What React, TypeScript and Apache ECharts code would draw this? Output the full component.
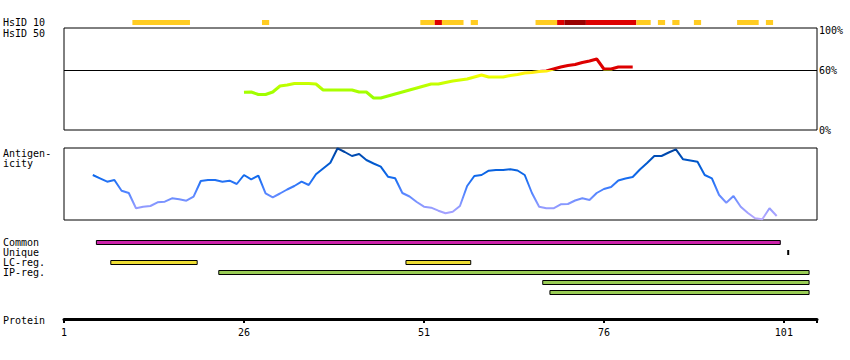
import React, { useEffect, useRef } from 'react';
import * as echarts from 'echarts';

// ---------- data ----------
// HsID segments: [firstResidue, lastResidue, colourKey]  (0 = yellow, 1 = red, 2 = dark red)
const hsidSegments: [number, number, number][] = [
  [11, 18, 0], [29, 29, 0], [51, 52, 0], [53, 53, 1], [54, 56, 0], [58, 58, 0],
  [67, 69, 0], [70, 70, 1], [71, 73, 2], [74, 80, 1], [81, 82, 0], [84, 84, 0],
  [86, 86, 0], [89, 89, 0], [95, 97, 0], [99, 99, 0],
];

// HsID 50 identity (%) per residue, starting at residue 26
const identityStart = 26;
const identityValues = [
  37.7, 38, 35.5, 35.5, 38, 44, 45, 46.5, 46.5, 46.5,
  46, 40, 40, 40, 40, 40, 38, 38, 32, 32,
  34, 36, 38, 40, 42, 44, 46, 46, 47.5, 49,
  50, 51, 53, 55, 53, 53, 53, 54.5, 55.5, 57,
  57.5, 58.5, 59, 61, 63, 64.5, 65.5, 67.5, 69, 71,
  61, 61, 63, 63, 63,
];
const identityTicks = [0, 60, 100];

// Antigenicity score per residue, starting at residue 5
const antigenStart = 5;
const antigenValues = [
  45, 41.7, 38.3, 40, 29.3, 27, 11.7, 13.3, 14, 17.7,
  18.3, 21.7, 20.7, 19.3, 23.3, 39, 40, 40, 38.3, 39.3,
  36, 45, 40.7, 44.3, 26.7, 22.7, 26.5, 30.5, 34, 38.3,
  35, 45.7, 51.5, 57.3, 71.7, 68, 64, 66, 60, 56.5,
  53.3, 43.3, 41.7, 27, 23.5, 18, 13.3, 12.3, 9.3, 6.7,
  8.3, 14, 34, 44, 45, 49.3, 50, 50, 50.7, 49.5,
  45, 27, 13.3, 11.7, 11.7, 15.7, 16, 19.5, 21.7, 20,
  27, 31, 33, 39.5, 41.5, 43, 50.5, 57, 64, 64,
  67.5, 70.7, 60.7, 59.5, 58.3, 45, 41.7, 25, 17.3, 24,
  13.3, 7, 1.7, 0.7, 11.7, 4,
];

// Feature regions [firstResidue, lastResidue]
const commonRegions: [number, number][] = [[6, 100]];
const uniqueMarks = [101.6];
const lcRegions: [number, number][] = [[8, 19], [49, 57]];
const ipRegions: [number, number][] = [[23, 104], [68, 104], [69, 104]];

const proteinTicks = [1, 26, 51, 76, 101];
const proteinEnd = 105.6;

const hsidLabels = ['HsID 10', 'HsID 50'];
const antigenLabels = ['Antigen-', 'icity'];
const featureLabels = ['Common', 'Unique', 'LC-reg.', 'IP-reg.'];
const proteinLabel = 'Protein';

// ---------- styles ----------
const FONT = "'DejaVu Sans Mono', monospace";
const HSID_COLORS = ['#ffcc22', '#dd0000', '#990000'];
const FEATURE_COLORS = ['#cc22aa', '#eedd33', '#99cc55', '#000000'];
const LEFT = 64;
const RIGHT = 33;

export default function App() {
  const ref = useRef<HTMLDivElement>(null);

  useEffect(() => {
    if (!ref.current) return;
    const chart = echarts.init(ref.current, null, { renderer: 'svg' });

    const identityData = identityValues.map((v, i) => [identityStart + i, v]);
    const antigenData = antigenValues.map((v, i) => [antigenStart + i, v]);

    // features: [start, end, rowValue, kind]
    const featureData: number[][] = [];
    commonRegions.forEach((r) => featureData.push([r[0], r[1], 5.5, 0]));
    uniqueMarks.forEach((m) => featureData.push([m, m, 15.5, 3]));
    lcRegions.forEach((r) => featureData.push([r[0], r[1], 25.5, 1]));
    ipRegions.forEach((r, i) => featureData.push([r[0], r[1], 35.5 + i * 10, 2]));

    const xBase = (gridIndex: number, show = false) => ({
      type: 'value' as const,
      gridIndex,
      min: 1,
      max: proteinEnd,
      show,
      splitLine: { show: false },
    });
    const yBase = (gridIndex: number, min: number, max: number, extra: any = {}) => ({
      type: 'value' as const,
      gridIndex,
      min,
      max,
      show: false,
      splitLine: { show: false },
      ...extra,
    });

    const text = (t: string, x: number, y: number, align = 'left') => ({
      type: 'text',
      x,
      y,
      silent: true,
      style: {
        text: t,
        font: `10px ${FONT}`,
        fill: '#000',
        align,
        verticalAlign: 'middle',
      },
    });

    const graphics: any[] = [
      text(hsidLabels[0], 3, 22.5),
      text(hsidLabels[1], 3, 33),
      text(antigenLabels[0], 3, 153),
      text(antigenLabels[1], 3, 163),
      ...featureLabels.map((l, i) => text(l, 3, 242.5 + i * 10)),
      text(proteinLabel, 3, 320),
    ];

    const option: any = {
      animation: false,
      backgroundColor: '#fff',
      textStyle: { fontFamily: FONT },
      grid: [
        { left: LEFT, right: RIGHT, top: 20, height: 5 },
        { left: LEFT, right: RIGHT, top: 28, height: 102, show: true, borderColor: '#000', borderWidth: 1 },
        { left: LEFT, right: RIGHT, top: 148, height: 72, show: true, borderColor: '#000', borderWidth: 1 },
        { left: LEFT, right: RIGHT, top: 237, height: 60 },
        { left: LEFT, right: RIGHT, top: 300, height: 19 },
      ],
      xAxis: [
        xBase(0),
        xBase(1),
        xBase(2),
        xBase(3),
        {
          ...xBase(4, true),
          position: 'bottom',
          axisLine: { show: true, onZero: false, lineStyle: { color: '#000', width: 3 } },
          axisTick: {
            show: true,
            length: 4,
            customValues: [...proteinTicks, proteinEnd],
            lineStyle: { color: '#000', width: 2 },
          },
          axisLabel: {
            show: true,
            customValues: proteinTicks,
            color: '#000',
            fontFamily: FONT,
            fontSize: 10,
            margin: 8,
          },
        },
      ],
      yAxis: [
        yBase(0, 0, 1),
        yBase(1, 0, 102, {
          show: true,
          position: 'right',
          axisLine: { show: false },
          axisTick: { show: false },
          axisLabel: {
            show: true,
            customValues: identityTicks,
            formatter: (v: number) => `${v}%`,
            color: '#000',
            fontFamily: FONT,
            fontSize: 10,
            margin: 2,
            padding: [4, 0, 0, 0],
          },
        }),
        yBase(2, 0, 72),
        yBase(3, 0, 60, { inverse: true }),
        yBase(4, 0, 1),
      ],
      visualMap: [
        {
          type: 'piecewise',
          show: false,
          seriesIndex: 1,
          dimension: 1,
          pieces: [
            { lt: 34, color: '#99ff00' },
            { gte: 34, lt: 38, color: '#a0ff00' },
            { gte: 38, lt: 42, color: '#aaff00' },
            { gte: 42, lt: 46, color: '#bbff00' },
            { gte: 46, lt: 50, color: '#ccff00' },
            { gte: 50, lt: 53, color: '#ddff00' },
            { gte: 53, lt: 56, color: '#f4ff00' },
            { gte: 56, lt: 60, color: '#ffee11' },
            { gte: 60, color: '#dd0000' },
          ],
        },
        {
          type: 'continuous',
          show: false,
          seriesIndex: 2,
          dimension: 1,
          min: 0,
          max: 72,
          inRange: {
            color: ['#bbaaff', '#8c99ff', '#4c82ff', '#116aee', '#0058cc', '#003f99'],
          },
        },
      ],
      series: [
        {
          type: 'custom',
          xAxisIndex: 0,
          yAxisIndex: 0,
          data: hsidSegments,
          renderItem: (_p: any, api: any) => {
            const a = api.coord([api.value(0) - 0.5, 1]);
            const b = api.coord([api.value(1) + 0.5, 0]);
            return {
              type: 'rect',
              shape: { x: a[0], y: a[1], width: b[0] - a[0], height: b[1] - a[1] },
              style: { fill: HSID_COLORS[api.value(2)] },
            };
          },
        },
        {
          type: 'line',
          xAxisIndex: 1,
          yAxisIndex: 1,
          data: identityData,
          symbol: 'none',
          showSymbol: false,
          lineStyle: { width: 3 },
          z: 3,
          markLine: {
            silent: true,
            symbol: ['none', 'none'],
            label: { show: false },
            lineStyle: { color: '#000', width: 1, type: 'solid' },
            data: [{ yAxis: 60 }],
            z: 2,
          },
        },
        {
          type: 'line',
          xAxisIndex: 2,
          yAxisIndex: 2,
          data: antigenData,
          symbol: 'none',
          showSymbol: false,
          lineStyle: { width: 2 },
        },
        {
          type: 'custom',
          xAxisIndex: 3,
          yAxisIndex: 3,
          data: featureData,
          renderItem: (_p: any, api: any) => {
            const kind = api.value(3);
            if (kind === 3) {
              const c = api.coord([api.value(0), api.value(2)]);
              return {
                type: 'rect',
                shape: { x: c[0] - 1, y: c[1] - 2.5, width: 2, height: 5 },
                style: { fill: '#000' },
              };
            }
            const a = api.coord([api.value(0) - 0.5, api.value(2)]);
            const b = api.coord([api.value(1) + 0.5, api.value(2)]);
            return {
              type: 'rect',
              shape: { x: a[0], y: a[1] - 2, width: b[0] - a[0], height: 4 },
              style: { fill: FEATURE_COLORS[kind], stroke: '#000', lineWidth: 1 },
            };
          },
        },
        {
          type: 'line',
          xAxisIndex: 4,
          yAxisIndex: 4,
          data: [],
        },
      ],
      graphic: graphics,
    };

    chart.setOption(option);
    return () => chart.dispose();
  }, []);

  return (
    <div
      ref={ref}
      style={{ position: 'absolute', left: 0, top: 0, width: 850, height: 360, background: '#fff' }}
    />
  );
}
